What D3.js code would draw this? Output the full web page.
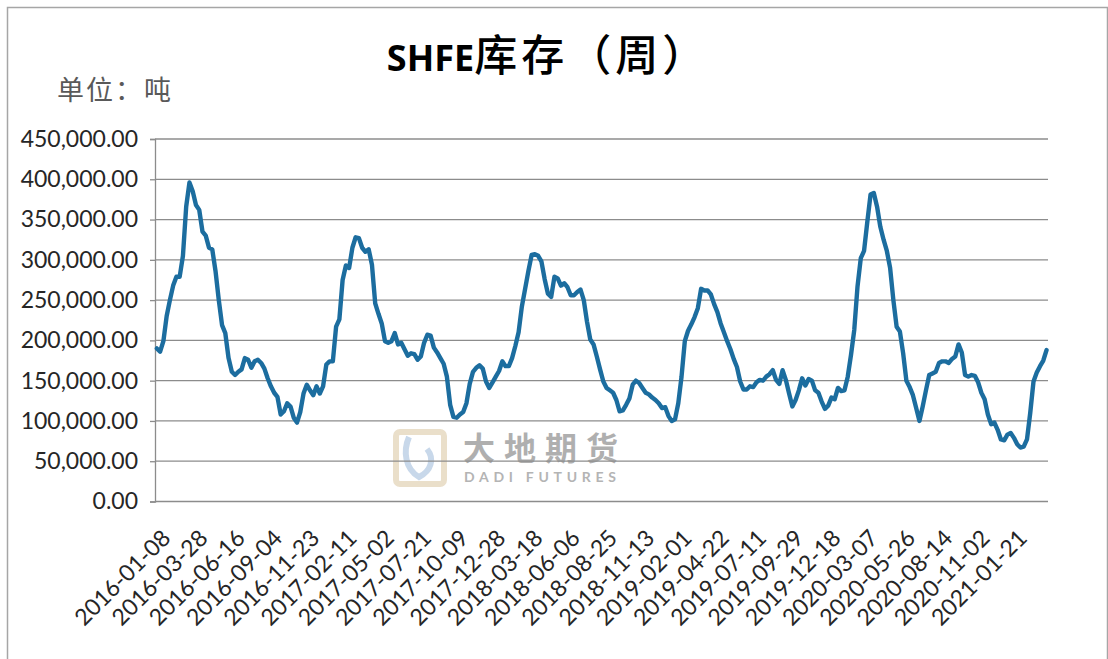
<!DOCTYPE html>
<html>
<head>
<meta charset="utf-8">
<script src="https://cdn.jsdelivr.net/npm/d3@7"></script>
<style>
  body { margin: 0; background: #fff; }
  svg { display: block; }
</style>
</head>
<body>
<div id="chart"></div>
<script>
// SHFE weekly inventory, tonnes, one value per week from the first date
const firstWeek = "2016-01-08";
const stock = [
  190000, 186000, 199000, 230000, 250000, 268000, 279000, 279000, 305000, 366000,
  396000, 385000, 368000, 362000, 335000, 330000, 315000, 313000, 286000, 250000,
  219000, 209000, 178000, 161000, 157000, 161000, 164000, 178000, 176000, 166000,
  174000, 176000, 172000, 165000, 153000, 143000, 135000, 130000, 108000, 112000,
  122000, 118000, 104000, 98000, 111000, 134000, 145000, 138000, 132000, 143000,
  134000, 143000, 170000, 174000, 174000, 217000, 226000, 275000, 293000, 290000,
  315000, 328000, 327000, 315000, 310000, 313000, 294000, 246000, 233000, 221000,
  199000, 197000, 199000, 209000, 195000, 197000, 189000, 181000, 184000, 183000,
  176000, 180000, 197000, 207000, 206000, 191000, 185000, 178000, 171000, 155000,
  120000, 105000, 104000, 108000, 111000, 122000, 146000, 161000, 166000, 169000,
  165000, 149000, 141000, 148000, 155000, 162000, 174000, 168000, 168000, 178000,
  193000, 210000, 242000, 264000, 286000, 306000, 307000, 305000, 298000, 276000,
  258000, 254000, 279000, 277000, 268000, 271000, 266000, 256000, 256000, 260000,
  263000, 250000, 223000, 201000, 195000, 180000, 164000, 149000, 141000, 138000,
  135000, 126000, 112000, 113000, 120000, 128000, 145000, 150000, 147000, 141000,
  135000, 133000, 129000, 126000, 122000, 116000, 117000, 106000, 100000, 102000,
  122000, 155000, 199000, 212000, 220000, 229000, 240000, 264000, 262000, 262000,
  257000, 245000, 235000, 221000, 210000, 199000, 189000, 177000, 167000, 149000,
  139000, 139000, 143000, 142000, 148000, 151000, 150000, 155000, 158000, 163000,
  151000, 146000, 163000, 151000, 134000, 118000, 126000, 138000, 153000, 144000,
  152000, 150000, 138000, 135000, 124000, 115000, 119000, 129000, 127000, 141000,
  137000, 138000, 155000, 182000, 213000, 267000, 302000, 311000, 347000, 381000,
  383000, 366000, 341000, 325000, 311000, 290000, 250000, 217000, 211000, 184000,
  150000, 142000, 132000, 116000, 100000, 118000, 138000, 157000, 159000, 161000,
  172000, 174000, 174000, 172000, 177000, 180000, 195000, 185000, 157000, 155000,
  157000, 156000, 148000, 135000, 127000, 108000, 96000, 98000, 89000, 77000,
  76000, 83000, 85000, 79000, 71000, 67000, 68000, 77000, 110000, 149000,
  160000, 168000, 175000, 188000
];

const yTickValues = [0, 50000, 100000, 150000, 200000, 250000, 300000, 350000, 400000, 450000];
const xTickLabels = [
  "2016-01-08", "2016-03-28", "2016-06-16", "2016-09-04", "2016-11-23",
  "2017-02-11", "2017-05-02", "2017-07-21", "2017-10-09", "2017-12-28",
  "2018-03-18", "2018-06-06", "2018-08-25", "2018-11-13", "2019-02-01",
  "2019-04-22", "2019-07-11", "2019-09-29", "2019-12-18", "2020-03-07",
  "2020-05-26", "2020-08-14", "2020-11-02", "2021-01-21"
];

const width = 1108, height = 659;
const plot = { left: 155, right: 1047, top: 139, bottom: 501.5 };

const parseDate = d3.timeParse("%Y-%m-%d");
const start = parseDate(firstWeek);
const data = stock.map((v, i) => ({ date: d3.timeDay.offset(start, i * 7), value: v }));

const svg = d3.select("#chart").append("svg")
  .attr("width", width)
  .attr("height", height);

// outer frame
svg.append("rect")
  .attr("x", 7.5).attr("y", 7.5)
  .attr("width", 1100).attr("height", 680)
  .attr("fill", "none")
  .attr("stroke", "#a6a6a6")
  .attr("stroke-width", 1.5);

const x = d3.scaleTime()
  .domain([parseDate("2016-01-04"), parseDate("2021-04-03")])
  .range([plot.left, plot.right]);

const y = d3.scaleLinear()
  .domain([0, 450000])
  .range([plot.bottom, plot.top]);

// watermark
const wm = svg.append("g").attr("transform", "translate(393,429)");
wm.append("rect")
  .attr("x", 3).attr("y", 3).attr("width", 48).attr("height", 52).attr("rx", 4)
  .attr("fill", "none").attr("stroke", "#eadfca").attr("stroke-width", 6);
wm.append("path")
  .attr("d", "M16,8 C10,22 12,40 26,48 C38,42 42,30 34,20")
  .attr("fill", "none").attr("stroke", "#c8d8ea").attr("stroke-width", 6);
wm.append("text")
  .attr("x", 70).attr("y", 31)
  .attr("font-family", "Noto Sans CJK SC")
  .attr("font-weight", 700)
  .attr("font-size", 32)
  .attr("textLength", 155)
  .attr("fill", "#9c9c9c")
  .attr("opacity", 0.8)
  .text("大地期货");
wm.append("text")
  .attr("x", 71).attr("y", 53)
  .attr("font-family", "Lato")
  .attr("font-weight", 700)
  .attr("font-size", 14)
  .attr("textLength", 152)
  .attr("fill", "#b4b4b4")
  .text("DADI FUTURES");

// gridlines
svg.append("g")
  .selectAll("line")
  .data(yTickValues)
  .join("line")
  .attr("x1", plot.left).attr("x2", plot.right + 1)
  .attr("y1", d => y(d)).attr("y2", d => y(d))
  .attr("stroke", "#8c8c8c")
  .attr("stroke-width", 1.3);

// y axis
const yAxis = svg.append("g")
  .attr("transform", `translate(${plot.left},0)`)
  .call(d3.axisLeft(y).tickValues(yTickValues).tickSize(5).tickPadding(12)
    .tickFormat(d3.format(",.2f")));
yAxis.select(".domain").attr("stroke", "#8c8c8c").attr("stroke-width", 1.3);
yAxis.selectAll(".tick line").attr("stroke", "#8c8c8c").attr("stroke-width", 1.3);
yAxis.selectAll(".tick text")
  .attr("font-family", "Lato")
  .attr("font-size", 23)
  .attr("fill", "#262626");

// x labels, rotated
svg.append("g")
  .selectAll("text")
  .data(xTickLabels)
  .join("text")
  .attr("transform", d => `translate(${x(parseDate(d)) + 15},${plot.bottom + 38}) rotate(-45)`)
  .attr("text-anchor", "end")
  .attr("font-family", "Lato")
  .attr("font-size", 23)
  .attr("fill", "#262626")
  .text(d => d);

// inventory line
const line = d3.line()
  .x(d => x(d.date))
  .y(d => y(d.value));

svg.append("path")
  .datum(data)
  .attr("d", line)
  .attr("fill", "none")
  .attr("stroke", "#1c6d9f")
  .attr("stroke-width", 4.4)
  .attr("stroke-linejoin", "round")
  .attr("stroke-linecap", "round");

// title and unit
const title = svg.append("text")
  .attr("x", 548).attr("y", 71)
  .attr("text-anchor", "middle")
  .attr("fill", "#000");
title.append("tspan")
  .attr("font-family", "Noto Sans")
  .attr("font-weight", 700)
  .attr("font-size", 36)
  .text("SHFE");
title.append("tspan")
  .attr("font-family", "Noto Sans CJK SC")
  .attr("font-weight", 500)
  .attr("font-size", 43)
  .attr("letter-spacing", 4)
  .text("库存（周）");

svg.append("text")
  .attr("x", 57).attr("y", 100)
  .attr("font-family", "Noto Sans CJK SC")
  .attr("font-size", 27)
  .attr("letter-spacing", 2)
  .attr("fill", "#595959")
  .text("单位：吨");
</script>
</body>
</html>
